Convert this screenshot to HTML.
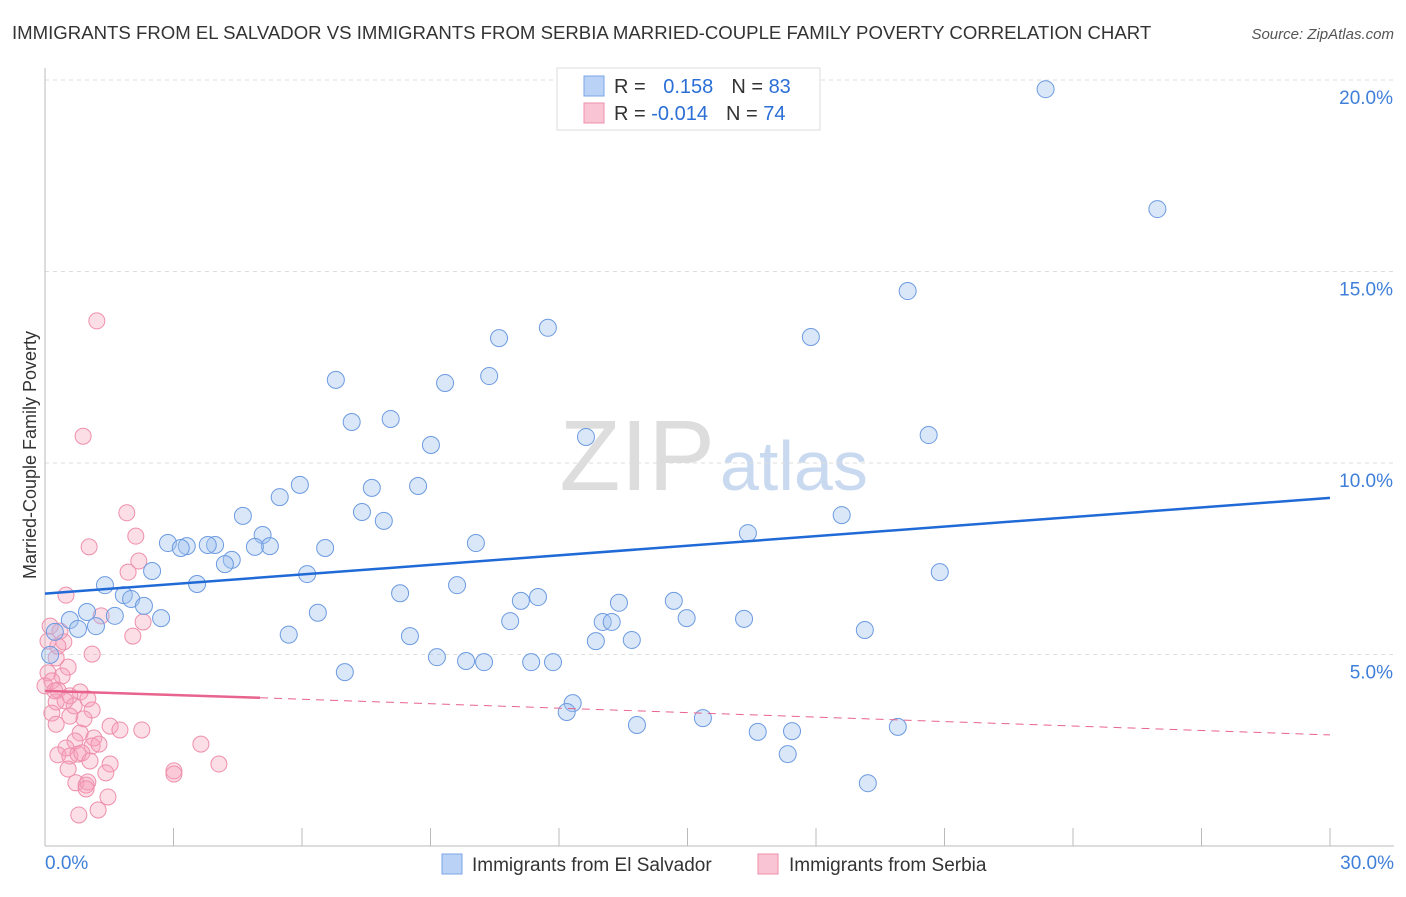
<!DOCTYPE html>
<html><head><meta charset="utf-8"><style>
body{margin:0;background:#fff;font-family:"Liberation Sans",sans-serif;}
svg text{font-family:"Liberation Sans",sans-serif;}
</style></head><body>
<svg id="chart" width="1406" height="892" xmlns="http://www.w3.org/2000/svg">
<text x="12" y="39" font-size="18.6" fill="#333">IMMIGRANTS FROM EL SALVADOR VS IMMIGRANTS FROM SERBIA MARRIED-COUPLE FAMILY POVERTY CORRELATION CHART</text>
<text x="1394" y="39" font-size="15" fill="#555" font-style="italic" text-anchor="end">Source: ZipAtlas.com</text>
<text x="715" y="490" font-size="100" fill="#ddd" text-anchor="end" font-family="Liberation Serif">ZIP</text>
<text x="720" y="490" font-size="70" fill="#c9d9f0">atlas</text>
<g id="grid"></g><g id="axes"></g><g id="pts"></g><g id="trend"></g>
<text x="36" y="455" font-size="18" fill="#333" text-anchor="middle" transform="rotate(-90 36 455)">Married-Couple Family Poverty</text>
<g>
<rect x="557" y="68" width="263" height="62" fill="#fff" stroke="#ddd"/>
<rect x="584" y="76" width="20" height="20" fill="#b9d2f5" stroke="#7aa6e6"/>
<rect x="584" y="103" width="20" height="20" fill="#f9c5d4" stroke="#ee8fab"/>
<text x="614" y="93" font-size="20" fill="#333">R = <tspan fill="#2b6fd6" dx="12">0.158</tspan><tspan dx="18" fill="#333">N = </tspan><tspan fill="#2b6fd6">83</tspan></text>
<text x="614" y="120" font-size="20" fill="#333">R = <tspan fill="#2b6fd6">-0.014</tspan><tspan dx="18" fill="#333">N = </tspan><tspan fill="#2b6fd6">74</tspan></text>
</g>
<g>
<rect x="442" y="854" width="20" height="20" fill="#b9d2f5" stroke="#7aa6e6"/>
<text x="472" y="871" font-size="19" fill="#333">Immigrants from El Salvador</text>
<rect x="758" y="854" width="20" height="20" fill="#f9c5d4" stroke="#ee8fab"/>
<text x="789" y="871" font-size="19" fill="#333">Immigrants from Serbia</text>
</g>
</svg>
<script>
const xTicks=[0,5,10,15,20,25,30];
const yTicks=[5,10,15,20];
const yTickLabels=["5.0%","10.0%","15.0%","20.0%"];
const blueX=[23.36,25.97,20.14,11.74,10.60,17.88,6.79,10.37,9.34,7.16,8.07,9.01,12.63,20.63,5.95,5.48,7.63,8.71,4.62,7.40,7.91,5.08,18.60,2.87,5.25,16.41,3.97,3.31,3.17,3.80,4.90,6.54,10.06,4.36,4.20,2.50,6.12,20.89,1.40,3.55,9.62,8.29,1.84,2.01,2.31,11.51,11.11,14.68,13.40,0.98,1.63,2.71,6.37,14.98,16.32,10.86,13.02,13.23,0.58,0.77,1.19,0.23,5.69,8.52,19.14,12.86,13.70,9.15,9.83,10.25,11.35,11.86,7.00,12.32,12.18,15.36,13.82,16.64,17.44,19.91,17.34,19.21,0.12];
const blueY=[19.76,16.63,14.49,13.53,13.26,13.29,12.17,12.27,12.09,11.07,11.15,10.47,10.68,10.73,9.43,9.11,9.35,9.40,8.62,8.72,8.49,8.12,8.64,7.91,7.83,8.17,7.86,7.83,7.78,7.86,7.81,7.78,7.91,7.47,7.36,7.18,7.10,7.15,6.81,6.84,6.81,6.60,6.55,6.45,6.27,6.50,6.40,6.40,6.35,6.11,6.01,5.95,6.09,5.95,5.93,5.87,5.85,5.85,5.90,5.67,5.74,5.59,5.52,5.48,5.64,5.35,5.38,4.93,4.83,4.80,4.80,4.80,4.54,3.73,3.50,3.34,3.16,2.98,3.00,3.11,2.40,1.64,4.99];
const pinkX=[1.21,0.89,1.91,2.12,1.03,2.19,1.94,0.49,1.31,2.29,0.12,2.05,0.35,0.44,1.10,0.26,0.54,0.07,0.40,0.16,0,0.30,0.82,0.58,1.00,0.26,0.68,1.10,0.16,0.58,0.91,1.52,1.75,2.26,0.26,0.82,1.14,0.70,1.10,0.49,1.26,3.64,0.30,0.58,0.77,0.86,1.52,1.05,0.54,4.06,3.01,3.01,1.42,0.72,0.96,1.00,0.96,1.47,1.24,0.79,0.30,0.07,0.23,0.47];
const pinkY=[13.71,10.70,8.70,8.09,7.81,7.44,7.15,6.55,6.01,5.85,5.74,5.48,5.61,5.33,5.01,4.91,4.67,4.52,4.44,4.31,4.18,4.07,4.02,3.92,3.84,3.76,3.66,3.55,3.47,3.39,3.32,3.13,3.03,3.03,3.18,2.95,2.82,2.74,2.61,2.56,2.66,2.66,2.38,2.35,2.40,2.43,2.14,2.22,2.01,2.14,1.96,1.88,1.91,1.65,1.59,1.67,1.49,1.28,0.94,0.81,5.22,5.35,4.05,3.79];
const X0=45,X1=1330,Y0=846,PY=38.3;
const sx=v=>X0+(X1-X0)*v/30, sy=v=>Y0-v*PY;
const ns="http://www.w3.org/2000/svg";
function mk(tag,attrs,parent){const e=document.createElementNS(ns,tag);for(const k in attrs)e.setAttribute(k,attrs[k]);document.getElementById(parent).appendChild(e);return e;}
yTicks.forEach((t,i)=>{
 const g=mk('line',{x1:X0,x2:1394,y1:sy(t),y2:sy(t),stroke:'#ddd','stroke-dasharray':'4,4'},'grid');
 
 
 const l=mk('text',{x:1393,y:sy(t)+24,'font-size':19,fill:'#3f7fd9','text-anchor':'end'},'axes');
 l.textContent=yTickLabels[i];
 
 
});
const topLine=mk('line',{x1:X0,x2:1394,y1:80,y2:80,stroke:'#ddd','stroke-dasharray':'4,4'},'grid');


const ya=mk('line',{x1:X0,x2:X0,y1:68,y2:846,stroke:'#bbb'},'axes');


const xa=mk('line',{x1:X0,x2:1394,y1:846,y2:846,stroke:'#bbb'},'axes');


for(let v=0;v<=30;v+=3){const t=mk('line',{x1:sx(v),x2:sx(v),y1:828,y2:846,stroke:'#bbb'},'axes');
 
 }
[[0,'0.0%','start',45],[30,'30.0%','end',1394]].forEach(a=>{const l=mk('text',{x:a[3],y:869,'font-size':19,fill:'#3f7fd9','text-anchor':a[2]},'axes');l.textContent=a[1];
 
 });
pinkX.forEach((x,i)=>{const c=mk('circle',{cx:sx(x),cy:sy(pinkY[i]),r:8,fill:'rgba(246,160,186,0.35)',stroke:'#ee8fab','stroke-width':1},'pts');
 
 });
blueX.forEach((x,i)=>{const c=mk('circle',{cx:sx(x),cy:sy(blueY[i]),r:8.5,fill:'rgba(160,195,240,0.4)',stroke:'#6d9be0','stroke-width':1},'pts');
 
 });
const bl=mk('line',{x1:sx(0),y1:sy(6.59),x2:sx(30),y2:sy(9.09),stroke:'#1f6ad6','stroke-width':2.5},'trend');


const p1=mk('line',{x1:sx(0),y1:sy(4.05),x2:sx(5.02),y2:sy(3.87),stroke:'#e8638d','stroke-width':2.5},'trend');


const p2=mk('line',{x1:sx(5.02),y1:sy(3.87),x2:sx(30),y2:sy(2.9),stroke:'#e8638d','stroke-width':1,'stroke-dasharray':'8,6'},'trend');


</script>
</body></html>
